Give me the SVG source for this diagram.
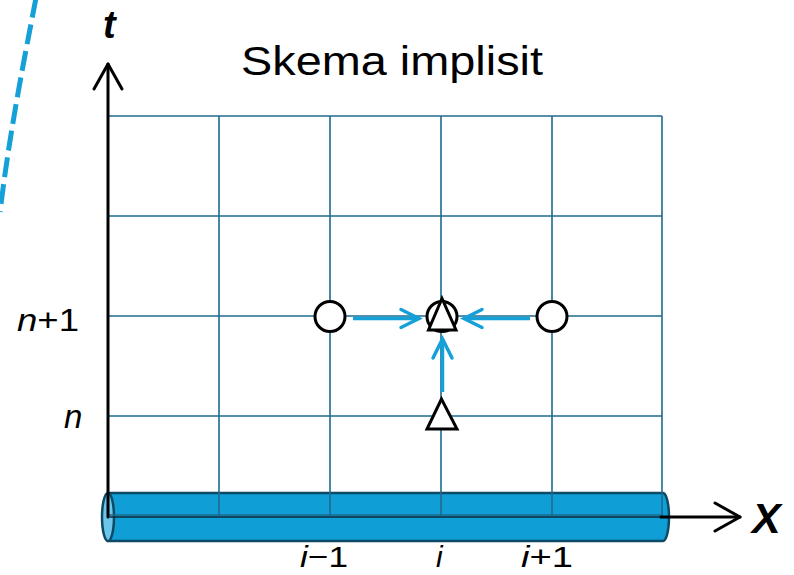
<svg xmlns="http://www.w3.org/2000/svg" width="794" height="575" viewBox="0 0 794 575">
<defs>
<style>
.grid{stroke:#1d6a8c;stroke-width:1.6;fill:none}
.axis{stroke:#000;stroke-width:3;fill:none;stroke-linecap:round;stroke-linejoin:round}
.conn{stroke:#16a0d8;stroke-width:3.5;fill:none}
.head{stroke:#16a0d8;stroke-width:3.5;fill:none;stroke-linecap:round;stroke-linejoin:miter}
.node{stroke:#000;stroke-width:3;fill:#fff}
.lbl{font-family:"Liberation Sans",Arial,sans-serif;fill:#000}
</style>
</defs>
<rect width="794" height="575" fill="#fff"/>
<!-- dashed blue curve -->
<path d="M36 -2 C 24 60, 10 130, 0 212" fill="none" stroke="#16a0d8" stroke-width="5" stroke-dasharray="20 7"/>
<!-- cylinder -->
<g id="cylinder">
<path d="M108 493 H663 A6 24 0 0 1 663 541 H108 Z" fill="#0f9ed5" stroke="#0d4a64" stroke-width="2.5"/>
<ellipse cx="108" cy="517" rx="6" ry="24" fill="#6cc6ec" stroke="#0d4a64" stroke-width="2.5"/>
</g>
<!-- grid -->
<g id="grid" class="grid">
<line x1="108" y1="116" x2="662" y2="116"/>
<line x1="108" y1="216" x2="662" y2="216"/>
<line x1="108" y1="316" x2="662" y2="316"/>
<line x1="108" y1="416" x2="662" y2="416"/>
<line x1="108" y1="515" x2="662" y2="515"/>
<line x1="219" y1="116" x2="219" y2="516"/>
<line x1="330" y1="116" x2="330" y2="516"/>
<line x1="441" y1="116" x2="441" y2="516"/>
<line x1="552" y1="116" x2="552" y2="516"/>
<line x1="662" y1="116" x2="662" y2="516"/>
</g>
<!-- axes -->
<g id="axes">
<line x1="108" y1="517" x2="108" y2="64" class="axis" stroke-width="2.5"/>
<polyline points="94,89 108,64 122,89" class="axis"/>
<line x1="108" y1="517" x2="661" y2="517" stroke="#0d2a3a" stroke-width="1.5"/>
<line x1="661" y1="517" x2="740" y2="517" class="axis"/>
<polyline points="715,503 740,517 715,531" class="axis"/>
</g>
<!-- connectors -->
<g id="connectors">
<line x1="353" y1="318.5" x2="418" y2="318.5" class="conn"/>
<polyline points="401,309.5 419,318.5 401,327.5" class="head"/>
<line x1="530" y1="318.5" x2="466" y2="318.5" class="conn"/>
<polyline points="482,309.5 464,318.5 482,327.5" class="head"/>
<line x1="442.5" y1="392" x2="442.5" y2="341" class="conn"/>
<polyline points="433,358 442.5,339 452,358" class="head"/>
</g>
<!-- nodes -->
<g id="node-im1"><circle cx="330" cy="316.5" r="15" class="node"/></g>
<g id="node-ip1"><circle cx="552" cy="316.5" r="15" class="node"/></g>
<g id="node-i-n1">
<circle cx="442" cy="316.5" r="15" class="node"/>
<polygon points="442,298.5 428.5,330 456,330" class="node"/>
</g>
<g id="node-i-n"><polygon points="441.5,399 427,429 457,429" class="node"/></g>
<!-- labels -->
<g id="labels">
<text x="103" y="38" class="lbl" font-size="38" font-weight="bold" font-style="italic">t</text>
<text x="752" y="533" class="lbl" font-size="43" font-weight="bold" font-style="italic">X</text>
<text x="241" y="75" class="lbl" font-size="40" textLength="302" lengthAdjust="spacingAndGlyphs">Skema implisit</text>
<text x="17" y="331" class="lbl" font-size="31" textLength="62" lengthAdjust="spacingAndGlyphs"><tspan font-style="italic">n</tspan>+1</text>
<text x="64" y="428" class="lbl" font-size="33" font-style="italic">n</text>
<text x="300" y="567" class="lbl" font-size="30" textLength="48" lengthAdjust="spacingAndGlyphs"><tspan font-style="italic">i</tspan>−1</text>
<text x="436" y="567" class="lbl" font-size="30" font-style="italic">i</text>
<text x="521" y="567" class="lbl" font-size="30" textLength="52" lengthAdjust="spacingAndGlyphs"><tspan font-style="italic">i</tspan>+1</text>
</g>
</svg>
